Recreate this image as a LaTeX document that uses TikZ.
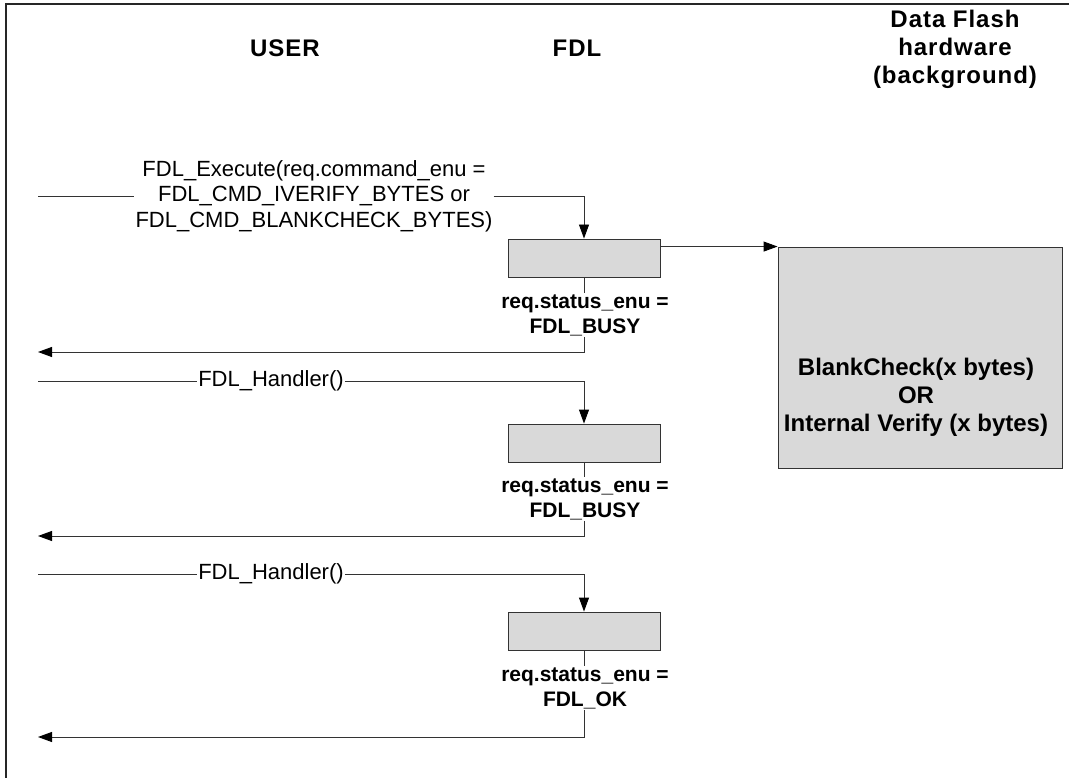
\documentclass[tikz,border=0pt]{standalone}
\usepackage{fontspec}
\setmainfont{Liberation Sans}
\usepackage{tikz}
\usetikzlibrary{arrows.meta,positioning}

\tikzset{
	line/.style={draw=black!80,line width=0.9pt},
	arr/.style={line,-{Triangle[length=14pt,width=10pt,color=black]}},
	fdlbox/.style={draw=black!80,line width=0.9pt,fill=black!15,minimum width=152pt,minimum height=38pt,inner sep=0pt},
	hwbox/.style={draw=black!80,line width=0.9pt,fill=black!15,minimum width=284pt,minimum height=221pt,inner sep=0pt},
	hwtext/.style={align=center,inner sep=0pt,font=\fontsize{24}{28}\selectfont\bfseries},
	msg/.style={font=\fontsize{22}{25.5}\selectfont,align=center,inner sep=1pt},
	status/.style={font=\fontsize{21}{25}\selectfont\bfseries,align=center,inner sep=1pt},
	head/.style={font=\fontsize{24}{28}\selectfont\bfseries\addfontfeatures{LetterSpace=4},align=center,inner sep=0pt}
}

\begin{document}
\begin{tikzpicture}[x=1pt,y=-1pt]
	\useasboundingbox (0,0) rectangle (1069,778);
	\draw[line width=1.8pt,black!85] (6,778) -- (6,4) -- (1069,4);

	\node[head] (user) at (285,48) {USER};
	\node[head] (fdl) at (577,48) {FDL};
	\node[head] (hwtitle) at (955,49) {Data Flash\\hardware\\(background)};

	\node[fdlbox] (box1) at (584,258) {};
	\node[fdlbox] (box2) at (584,443) {};
	\node[fdlbox] (box3) at (584,631) {};
	\node[hwbox] (hw) at (920,357.5) {};
	\node[hwtext] (hwtxt) at (916,397) {BlankCheck(x bytes)\\OR\\Internal Verify (x bytes)};

	\node[msg] (exec) at (314,196) {FDL\_Execute(req.command\_enu =\\FDL\_CMD\_IVERIFY\_BYTES or\\FDL\_CMD\_BLANKCHECK\_BYTES)};
	\node[msg] (hand1) at (271,381) {FDL\_Handler()};
	\node[msg] (hand2) at (271,574) {FDL\_Handler()};

	\node[status] (st1) at (585,315) {req.status\_enu =\\FDL\_BUSY};
	\node[status] (st2) at (585,499) {req.status\_enu =\\FDL\_BUSY};
	\node[status] (st3) at (585,688) {req.status\_enu =\\FDL\_OK};

	\coordinate (in1) at (38,196);
	\coordinate (in2) at (38,381);
	\coordinate (in3) at (38,574);
	\coordinate (ret1) at (38,352);
	\coordinate (ret2) at (38,536);
	\coordinate (ret3) at (38,737);

	\draw[line] (in1) -- (exec.west);
	\draw[arr] (exec.east) -| (box1.north);
	\draw[line] (box1.south) -- (box1.south |- st1.north);
	\draw[arr] (box1.south |- st1.south) |- (ret1);
	\draw[arr] (box1.east |- hw.north west) -- (hw.north west);

	\draw[line] (in2) -- (hand1.west);
	\draw[arr] (hand1.east) -| (box2.north);
	\draw[line] (box2.south) -- (box2.south |- st2.north);
	\draw[arr] (box2.south |- st2.south) |- (ret2);

	\draw[line] (in3) -- (hand2.west);
	\draw[arr] (hand2.east) -| (box3.north);
	\draw[line] (box3.south) -- (box3.south |- st3.north);
	\draw[arr] (box3.south |- st3.south) |- (ret3);
\end{tikzpicture}
\end{document}
